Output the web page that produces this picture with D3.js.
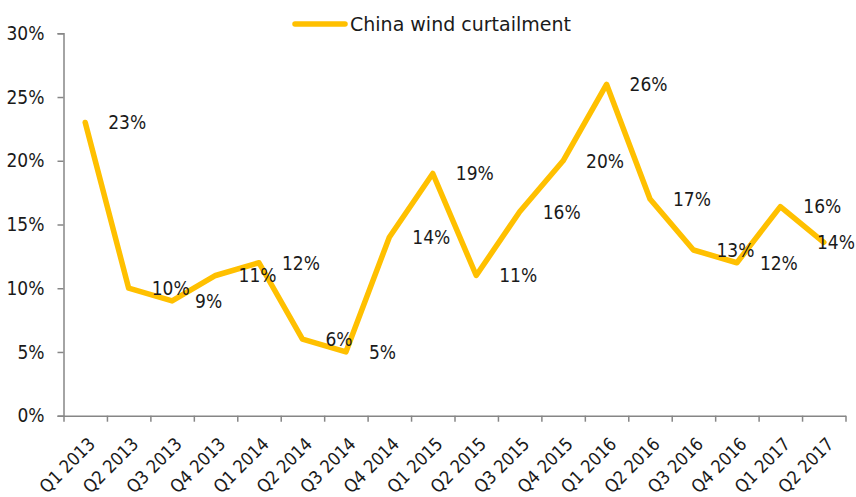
<!DOCTYPE html>
<html>
<head>
<meta charset="utf-8">
<script src="https://cdn.jsdelivr.net/npm/d3@7"></script>
<style>
  html, body { margin: 0; padding: 0; background: #ffffff; }
  svg { display: block; }
  .num { font-family: "DejaVu Sans Condensed", "DejaVu Sans", sans-serif; font-stretch: condensed; font-size: 19px; fill: #1a1a1a; }
  .cat { font-family: "DejaVu Sans Condensed", "DejaVu Sans", sans-serif; font-stretch: condensed; font-size: 18px; fill: #1a1a1a; }
  .legend-text { font-family: "DejaVu Sans", sans-serif; font-size: 19px; fill: #1a1a1a; }
</style>
</head>
<body>
<svg id="chart" width="856" height="497"></svg>
<script>
// Quarterly curtailment rate of wind power in China (%)
const categories = [
  "Q1 2013", "Q2 2013", "Q3 2013", "Q4 2013",
  "Q1 2014", "Q2 2014", "Q3 2014", "Q4 2014",
  "Q1 2015", "Q2 2015", "Q3 2015", "Q4 2015",
  "Q1 2016", "Q2 2016", "Q3 2016", "Q4 2016",
  "Q1 2017", "Q2 2017"
];
const curtailment = [23, 10, 9, 11, 12, 6, 5, 14, 19, 11, 16, 20, 26, 17, 13, 12, 16.4, 13.6];
const yTicks = [0, 5, 10, 15, 20, 25, 30];
const seriesName = "China wind curtailment";

const W = 856, H = 497;
const plot = { left: 63.5, right: 845.5, top: 33.3, bottom: 415.7 };
const lineColor = "#FFC000";
const axisColor = "#868686";

const svg = d3.select("#chart");

const x = d3.scaleBand().domain(categories).range([plot.left, plot.right]).padding(0);
const y = d3.scaleLinear().domain([0, 30]).range([plot.bottom, plot.top]);
const cx = d => x(d) + x.bandwidth() / 2;

// Y axis
const yAxis = svg.append("g")
  .attr("transform", `translate(${plot.left},0)`)
  .call(d3.axisLeft(y).tickValues(yTicks).tickFormat(d => d + "%").tickSize(6).tickPadding(13));
yAxis.select(".domain").attr("stroke", axisColor).attr("stroke-width", 1.5);
yAxis.selectAll(".tick line").attr("stroke", axisColor).attr("stroke-width", 1.5);
yAxis.selectAll(".tick text").attr("class", "num").attr("font-family", null).attr("font-size", null).attr("fill", null);

// X axis: tick marks sit on the boundaries between quarters
const xEdges = d3.scaleLinear().domain([0, categories.length]).range([plot.left, plot.right]);
const xAxis = svg.append("g")
  .attr("transform", `translate(0,${plot.bottom})`)
  .call(d3.axisBottom(xEdges).tickValues(d3.range(categories.length + 1)).tickFormat("").tickSize(6).tickSizeOuter(0));
xAxis.select(".domain").attr("stroke", axisColor).attr("stroke-width", 1.5);
xAxis.selectAll(".tick line").attr("stroke", axisColor).attr("stroke-width", 1.5);

// Rotated quarter labels
svg.append("g").selectAll("text")
  .data(categories)
  .join("text")
  .attr("class", "cat")
  .attr("text-anchor", "end")
  .attr("dy", "0.35em")
  .attr("transform", d => `translate(${cx(d) + 6.5},${plot.bottom + 25}) rotate(-45)`)
  .text(d => d);

// Curtailment line
const pts = categories.map((c, i) => ({ c, v: curtailment[i] }));
svg.append("path")
  .datum(pts)
  .attr("fill", "none")
  .attr("stroke", lineColor)
  .attr("stroke-width", 5.5)
  .attr("stroke-linejoin", "round")
  .attr("stroke-linecap", "round")
  .attr("d", d3.line().x(d => cx(d.c)).y(d => y(d.v)));

// Value labels to the right of each point, kept inside the canvas
svg.append("g").selectAll("text")
  .data(pts)
  .join("text")
  .attr("class", "num")
  .attr("dy", "0.36em")
  .attr("y", d => y(d.v))
  .text(d => Math.round(d.v) + "%")
  .each(function (d) {
    const w = this.getComputedTextLength();
    this.setAttribute("x", Math.min(cx(d.c) + 23, W - 1 - w));
  });

// Legend
const legend = svg.append("g").attr("transform", "translate(293,24)");
legend.append("line")
  .attr("x1", 2).attr("x2", 52).attr("y1", 0).attr("y2", 0)
  .attr("stroke", lineColor).attr("stroke-width", 5.5).attr("stroke-linecap", "round");
legend.append("text")
  .attr("class", "legend-text")
  .attr("x", 57).attr("y", 0).attr("dy", "0.36em")
  .text(seriesName);
</script>
</body>
</html>
